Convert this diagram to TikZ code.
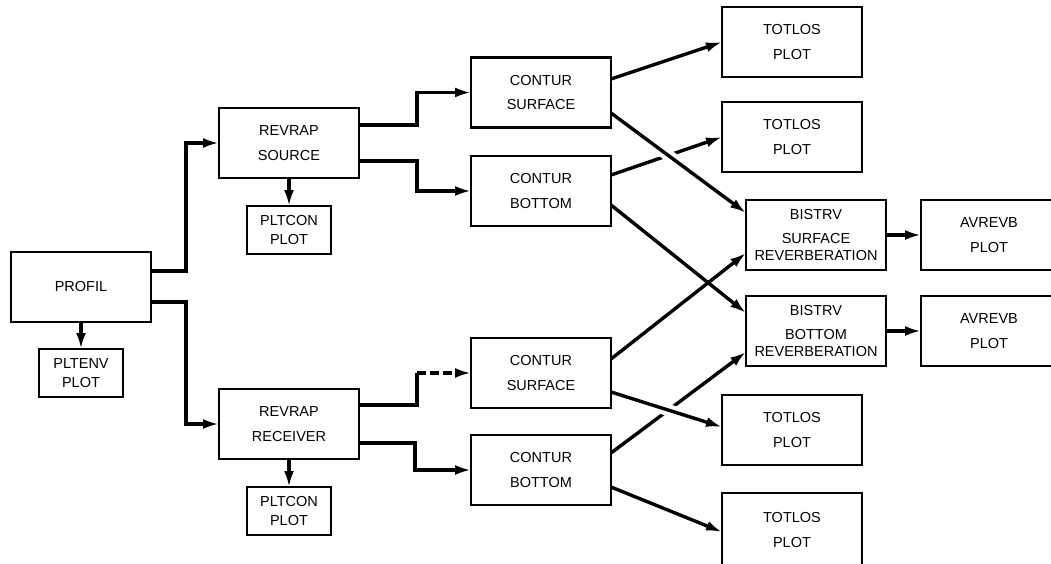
\documentclass[tikz,border=0pt]{standalone}
\usepackage{fontspec}
\setmainfont{Liberation Sans}
\usepackage{tikz}
\usetikzlibrary{positioning}
\usetikzlibrary{arrows.meta}
\usetikzlibrary{backgrounds}
\tikzset{>=stealth}
\tikzstyle{block} = [draw, 
line width=2.2pt, inner sep=0pt, outer sep=0pt, 
minimum width=140pt, minimum height=70pt, align=center, 
font=\fontsize{14.5}{24.5}\selectfont]
\tikzstyle{plotbox} = [block, 
minimum width=84pt, minimum height=48pt, 
font=\fontsize{14.5}{19}\selectfont]
\tikzstyle{flow} = [draw, 
line width=3.4pt, 
-{Latex[length=16pt,width=10pt]}]
\tikzstyle{over} = [preaction={draw=white, line width=12pt, -}]

\begin{document}
\begin{tikzpicture}
    \useasboundingbox (0,0) rectangle (1051pt,-563pt);
    \node [block] (profil) at (81pt,-287pt) {PROFIL};
    \node [plotbox, below=27pt of profil] (pltenv) {PLTENV\\PLOT};
    \node [block, above right=74pt and 68pt of profil] (src) {REVRAP\\SOURCE};
    \node [plotbox, below=28pt of src] (pltconA) {PLTCON\\PLOT};
    \node [block, below right=67pt and 68pt of profil] (rcv) {REVRAP\\RECEIVER};
    \node [plotbox, below=28pt of rcv] (pltconB) {PLTCON\\PLOT};
    \node [block, right=112pt of src, yshift=50.5pt] (csA) {CONTUR\\SURFACE};
    \node [block, below=28.5pt of csA] (cbA) {CONTUR\\BOTTOM};
    \node [block, right=112pt of rcv, yshift=51pt] (csB) {CONTUR\\SURFACE};
    \node [block, below=27pt of csB] (cbB) {CONTUR\\BOTTOM};
    \node [block, right=111pt of csA, yshift=50.5pt] (totA) {TOTLOS\\PLOT};
    \node [block, below=25pt of totA] (totB) {TOTLOS\\PLOT};
    \node [block, right=135pt of cbA, yshift=-44pt] (bsA) {BISTRV\\SURFACE\\[-7.5pt]REVERBERATION};
    \node [block, below=26pt of bsA] (bbB) {BISTRV\\BOTTOM\\[-7.5pt]REVERBERATION};
    \node [block, minimum width=136pt, right=35pt of bsA] (avA) {AVREVB\\PLOT};
    \node [block, minimum width=136pt, right=35pt of bbB] (avB) {AVREVB\\PLOT};
    \node [block, right=111pt of csB, yshift=-57pt] (totC) {TOTLOS\\PLOT};
    \node [block, minimum height=74pt, below=28pt of totC] (totD) {TOTLOS\\PLOT};
    %% Flows
    \begin{scope}[on background layer]
    \path [flow] (profil) -- (pltenv);
    \path [flow] ([yshift=16pt]profil.east) -- ++(35pt,0) |- (src);
    \path [flow] ([yshift=-15pt]profil.east) -- ++(35pt,0) |- (rcv);
    \path [flow] (src) -- (pltconA);
    \path [flow] (rcv) -- (pltconB);
    \path [flow] ([yshift=18pt]src.east) -- ++(58pt,0) |- (csA);
    \path [flow] ([yshift=-18pt]src.east) -- ++(58pt,0) |- (cbA);
    \path ([yshift=19pt]rcv.east) ++(58pt,0) coordinate (rkink);
    \path [flow, -] ([yshift=19pt]rcv.east) -- (rkink) -- (rkink |- csB.west);
    \path [flow, dash pattern=on 9pt off 4pt] (rkink |- csB.west) -- (csB.west);
    \path [flow] ([yshift=-19pt]rcv.east) -- ++(56pt,0) |- (cbB);
    %% upper fan
    \path [flow] ([yshift=13.5pt]csA.east) -- (totA.west);
    \path [flow] ([yshift=16pt]cbA.east) -- (totB.west);
    \path [flow, over] ([yshift=-20.5pt]csA.east) -- ([yshift=22pt]bsA.west);
    \path [flow] ([yshift=-14pt]cbA.east) -- ([yshift=18pt]bbB.west);
    %% lower fan
    \path [flow] ([yshift=14pt]csB.east) -- ([yshift=-18pt]bsA.west);
    \path [flow] ([yshift=17pt]cbB.east) -- ([yshift=-21pt]bbB.west);
    \path [flow, over] ([yshift=-19pt]csB.east) -- ([yshift=3pt]totC.west);
    \path [flow] ([yshift=-17pt]cbB.east) -- ([yshift=-2pt]totD.west);
    \path [flow] (bsA) -- (avA);
    \path [flow] (bbB) -- (avB);
    \end{scope}
\end{tikzpicture}
\end{document}
